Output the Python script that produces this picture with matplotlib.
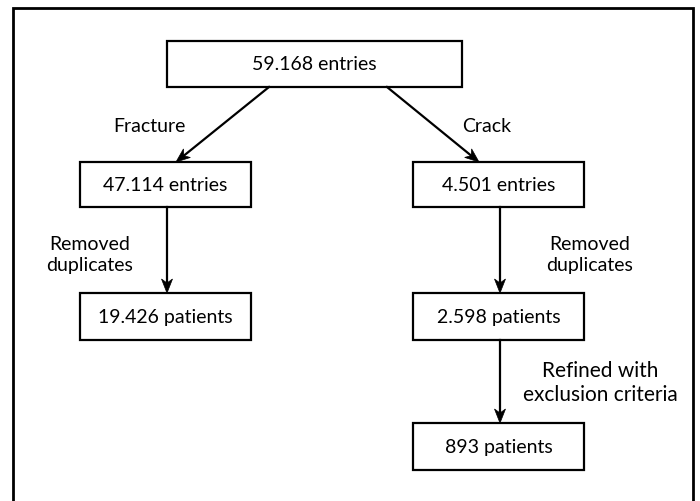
import numpy as np
import matplotlib.pyplot as plt
from matplotlib.patches import Rectangle, Polygon

# flowchart content
box_labels = ["59.168 entries", "47.114 entries", "4.501 entries",
              "19.426 patients", "2.598 patients", "893 patients"]
edge_labels = ["Fracture", "Crack", "Removed\nduplicates", "Removed\nduplicates",
               "Refined with\nexclusion criteria"]

# layout (pixels, y down)
box_xy = [(167, 42, 295, 46), (80, 163, 171, 45), (413, 163, 171, 45),
          (80, 294, 171, 47), (413, 294, 171, 47), (413, 424, 171, 47)]
arrow_pts = [((269, 88), (176, 163)), ((387, 88), (479, 163)),
             ((167, 208), (167, 294)), ((500, 208), (500, 294)),
             ((500, 341), (500, 424))]
label_xy = [(149, 126), (487, 126), (90, 255), (590, 255), (600, 383)]
label_size = [14, 14, 14, 14, 15]

plt.rcParams['font.family'] = ['Lato', 'DejaVu Sans']
fig = plt.figure(figsize=(7, 5.02), dpi=100)
ax = fig.add_axes([0, 0, 1, 1])
ax.set_xlim(0, 700)
ax.set_ylim(502, 0)
ax.axis('off')

# outer frame (bottom edge cut off)
ax.plot([13, 13, 693, 693], [510, 9, 9, 510], color='black', lw=2, solid_joinstyle='miter')

for (x, y, w, h), lab in zip(box_xy, box_labels):
    ax.add_patch(Rectangle((x, y), w, h, fill=False, ec='black', lw=1.6))
    ax.text(x + w / 2, y + h / 2, lab, ha='center', va='center', fontsize=14)


def arrow(p0, p1, hl=14, hw=5.5, notch=4):
    p0 = np.array(p0, float)
    p1 = np.array(p1, float)
    d = (p1 - p0) / np.hypot(*(p1 - p0))
    n = np.array([-d[1], d[0]])
    base = p1 - d * hl
    back = p1 - d * (hl - notch)
    ax.plot([p0[0], back[0]], [p0[1], back[1]], color='black', lw=1.6)
    ax.add_patch(Polygon([p1, base + n * hw, back, base - n * hw], closed=True,
                         fc='black', ec='black', lw=0.5))


for p0, p1 in arrow_pts:
    arrow(p0, p1)

for (x, y), lab, fs in zip(label_xy, edge_labels, label_size):
    ax.text(x, y, lab, ha='center', va='center', fontsize=fs, linespacing=1.3)

fig.savefig('out.png', dpi=100)
